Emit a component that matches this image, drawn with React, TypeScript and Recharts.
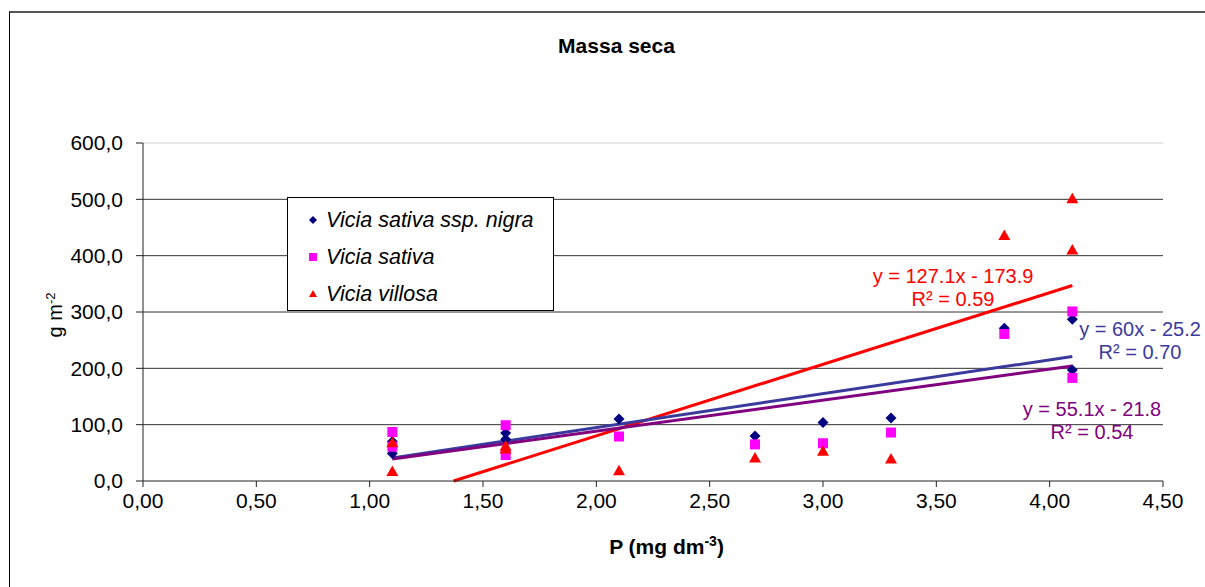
import React from "react";
import { ScatterChart, Scatter, XAxis, YAxis, CartesianGrid, ReferenceLine } from "recharts";

const FONT = '"Liberation Sans", Arial, sans-serif';

const xTicks = [0, 0.5, 1, 1.5, 2, 2.5, 3, 3.5, 4, 4.5];
const yTicks = [0, 100, 200, 300, 400, 500, 600];

// P (mg dm-3) vs dry mass (g m-2)
const nigraP = [1.1, 1.1, 1.6, 1.6, 2.1, 2.7, 3.0, 3.3, 3.8, 4.1, 4.1];
const nigraMass = [70, 49, 85, 74, 110, 80, 104, 112, 271, 287, 197];
const sativaP = [1.1, 1.1, 1.6, 1.6, 2.1, 2.7, 3.0, 3.3, 3.8, 4.1, 4.1];
const sativaMass = [87, 61, 99, 46, 79, 65, 67, 86, 261, 301, 183];
const villosaP = [1.1, 1.1, 1.6, 1.6, 2.1, 2.7, 3.0, 3.3, 3.8, 4.1, 4.1];
const villosaMass = [68, 17, 62, 57, 18, 41, 53, 39, 436, 501, 410];

// trend line end points
const nigraTrend = [{ x: 1.1, y: 41 }, { x: 4.1, y: 221 }];
const sativaTrend = [{ x: 1.1, y: 39 }, { x: 4.1, y: 204 }];
const villosaTrend = [{ x: 1.37, y: 0 }, { x: 4.1, y: 347 }];

const toPoints = (xs: number[], ys: number[]) => xs.map((x, i) => ({ x, y: ys[i] }));

const NAVY = "#000080";
const MAGENTA = "#ff00ff";
const RED = "#ff0000";

const Diamond = ({ cx, cy, r = 5.5 }: any) => (
  <polygon points={`${cx},${cy - r} ${cx + r},${cy} ${cx},${cy + r} ${cx - r},${cy}`} fill={NAVY} />
);
const Square = ({ cx, cy, r = 5 }: any) => <rect x={cx - r} y={cy - r} width={r * 2} height={r * 2} fill={MAGENTA} />;
const Triangle = ({ cx, cy, r = 6 }: any) => (
  <polygon points={`${cx},${cy - r} ${cx + r},${cy + r * 0.75} ${cx - r},${cy + r * 0.75}`} fill={RED} />
);

const fmtX = (v: number) => v.toFixed(2).replace(".", ",");
const fmtY = (v: number) => v.toFixed(1).replace(".", ",");

const abs = (s: React.CSSProperties): React.CSSProperties => ({ position: "absolute", fontFamily: FONT, whiteSpace: "nowrap", ...s });

export default function App() {
  const tickStyle = { fontSize: 21, fill: "#000", fontFamily: FONT };
  return (
    <div style={{ position: "absolute", left: 0, top: 0, width: 1205, height: 587, background: "#fff", overflow: "hidden" }}>
      <div style={{ position: "absolute", left: 9, top: 11, width: 1300, height: 700, borderLeft: "1px solid #000", borderTop: "2px solid #555" }} />
      <div style={{ position: "absolute", left: 0, top: 0 }}>
        <ScatterChart width={1205} height={587} margin={{ top: 143, right: 42, bottom: 66, left: 0 }}>
          <CartesianGrid vertical={false} stroke="#333" horizontalValues={[100, 200, 300, 400, 500]} />
          <ReferenceLine y={600} stroke="#d0d0d0" />
          <XAxis
            type="number"
            dataKey="x"
            domain={[0, 4.5]}
            ticks={xTicks}
            tickFormatter={fmtX}
            height={40}
            tick={tickStyle}
            tickSize={6}
            tickMargin={6}
            stroke="#222"
            interval={0}
          />
          <YAxis
            type="number"
            dataKey="y"
            domain={[0, 600]}
            ticks={yTicks}
            tickFormatter={fmtY}
            width={143}
            tick={tickStyle}
            tickSize={7}
            tickMargin={13}
            stroke="#222"
            interval={0}
          />
          <Scatter data={toPoints(nigraP, nigraMass)} shape={(p: any) => <Diamond cx={p.cx} cy={p.cy} />} isAnimationActive={false} />
          <Scatter data={toPoints(sativaP, sativaMass)} shape={(p: any) => <Square cx={p.cx} cy={p.cy} />} isAnimationActive={false} />
          <Scatter data={toPoints(villosaP, villosaMass)} shape={(p: any) => <Triangle cx={p.cx} cy={p.cy} />} isAnimationActive={false} />
          <ReferenceLine segment={villosaTrend} stroke={RED} strokeWidth={3} />
          <ReferenceLine segment={nigraTrend} stroke="#3a3a9e" strokeWidth={3} />
          <ReferenceLine segment={sativaTrend} stroke="#800080" strokeWidth={3} />
        </ScatterChart>
      </div>

      <div style={abs({ left: 0, width: 1233, top: 34, textAlign: "center", fontSize: 21, fontWeight: "bold" })}>Massa seca</div>
      <div style={abs({ left: 0, width: 1333, top: 533, textAlign: "center", fontSize: 21, fontWeight: "bold" })}>
        P (mg dm<sup style={{ fontSize: 14 }}>-3</sup>)
      </div>
      <div style={abs({ left: 55, top: 315, fontSize: 20, transform: "translate(-50%, -50%) rotate(-90deg)" })}>
        g m<sup style={{ fontSize: 13 }}>-2</sup>
      </div>

      <div style={abs({ left: 853, width: 200, top: 265, textAlign: "center", fontSize: 20, color: RED, lineHeight: "23px" })}>
        y = 127.1x - 173.9<br />R² = 0.59
      </div>
      <div style={abs({ left: 1040, width: 200, top: 318, textAlign: "center", fontSize: 20, color: "#3a3a9e", lineHeight: "23px" })}>
        y = 60x - 25.2<br />R² = 0.70
      </div>
      <div style={abs({ left: 992, width: 200, top: 398, textAlign: "center", fontSize: 20, color: "#800080", lineHeight: "23px" })}>
        y = 55.1x - 21.8<br />R² = 0.54
      </div>

      <div style={abs({ left: 287, top: 197, width: 265, height: 112, border: "1px solid #000", background: "#fff" })}>
        {[
          { name: "Vicia sativa ssp. nigra", M: Diamond },
          { name: "Vicia sativa", M: Square },
          { name: "Vicia villosa", M: Triangle },
        ].map((it, i) => (
          <div key={i} style={{ position: "absolute", left: 18, top: 7 + i * 37, height: 30, display: "flex", alignItems: "center" }}>
            <svg width={14} height={14} style={{ marginRight: 6 }}>
              <it.M cx={7} cy={7} r={4} />
            </svg>
            <span style={{ fontSize: 21.5, fontStyle: "italic" }}>{it.name}</span>
          </div>
        ))}
      </div>
    </div>
  );
}
